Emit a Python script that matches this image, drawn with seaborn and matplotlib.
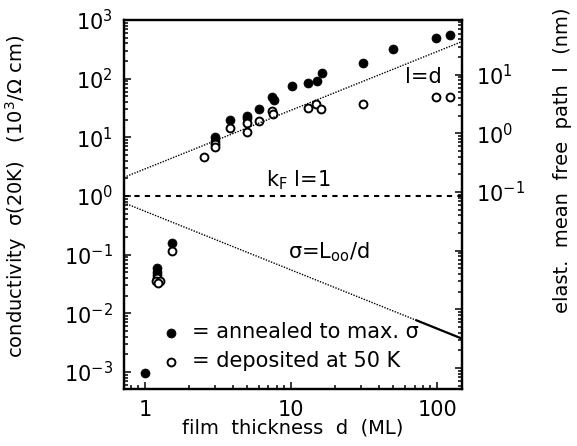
import numpy as np
import pandas as pd
import matplotlib
matplotlib.use("Agg")
import matplotlib.pyplot as plt
from matplotlib.ticker import LogLocator, NullFormatter
import seaborn as sns

# film thickness d (ML) and conductivity sigma(20K) in 10^3/(Ohm cm)
annealed_d = [1.0, 1.21, 1.21, 1.21, 1.54, 3.0, 3.0, 3.8, 5.0, 5.0, 6.0,
              7.4, 7.6, 10.1, 13.1, 15.0, 16.2, 31.2, 50.0, 98.5, 123.0]
annealed_sigma = [0.00095, 0.059, 0.051, 0.045, 0.156, 10.0, 8.8, 19.7, 23.3, 21.0, 31.0,
                  49.0, 44.0, 75.0, 83.0, 91.0, 127.0, 187.0, 320.0, 486.0, 550.0]

deposited_d = [1.21, 1.19, 1.27, 1.23, 1.54, 2.54, 3.0, 3.0, 3.8, 5.0, 5.0,
               6.0, 7.4, 7.5, 13.1, 14.9, 16.0, 31.2, 98.5, 123.0]
deposited_sigma = [0.040, 0.035, 0.0356, 0.0325, 0.116, 4.7, 7.7, 6.8, 14.6, 17.3, 12.2,
                   19.2, 28.0, 25.0, 32.0, 36.5, 31.0, 36.6, 49.0, 48.0]

# guide lines
l_eq_d_coef = 2.9      # sigma = coef * d  (l = d)
L00 = 0.55             # sigma = L00 / d
solid_from = 70.0      # where the L00/d line turns solid
sigma_to_l = 0.0855    # mean free path l (nm) per sigma unit

xlim = (0.718, 148.0)
ylim = (5.15e-4, 1000.0)

df_ann = pd.DataFrame({"d": annealed_d, "sigma": annealed_sigma})
df_dep = pd.DataFrame({"d": deposited_d, "sigma": deposited_sigma})

d_line = np.geomspace(xlim[0], xlim[1], 200)
df_ld = pd.DataFrame({"d": d_line, "sigma": l_eq_d_coef * d_line})
df_L = pd.DataFrame({"d": d_line, "sigma": L00 / d_line})
df_Ls = df_L[df_L["d"] >= solid_from]

sns.set_style("ticks")
plt.rcParams["font.family"] = ["DejaVu Sans"]
plt.rcParams["mathtext.fontset"] = "dejavusans"
for key in ["text.color", "axes.labelcolor", "xtick.color", "ytick.color", "axes.edgecolor"]:
    plt.rcParams[key] = "black"

fig = plt.figure(figsize=(5.77, 4.46), dpi=100)
ax = fig.add_axes([124 / 577, 1 - 389 / 446, 338 / 577, 369 / 446])

sns.lineplot(data=df_ld, x="d", y="sigma", ax=ax, color="black",
             lw=1.0, linestyle=(0, (1, 1)), legend=False)
sns.lineplot(data=df_L, x="d", y="sigma", ax=ax, color="black",
             lw=1.0, linestyle=(0, (1, 1)), legend=False)
sns.lineplot(data=df_Ls, x="d", y="sigma", ax=ax, color="black",
             lw=1.6, legend=False)
ax.axhline(1.0, color="black", lw=1.5, linestyle=(0, (2.5, 2.5)))

sns.scatterplot(data=df_ann, x="d", y="sigma", ax=ax, color="black",
                s=42, edgecolor="black", linewidth=0.5,
                label="= annealed to max. σ")
sns.scatterplot(data=df_dep, x="d", y="sigma", ax=ax, facecolor="white",
                s=32, edgecolor="black", linewidth=1.4,
                label="= deposited at 50 K")

ax.set_xscale("log")
ax.set_yscale("log")
ax.set_xlim(*xlim)
ax.set_ylim(*ylim)

ax.set_xticks([1, 10, 100], labels=["1", "10", "100"])
ax.xaxis.set_minor_locator(LogLocator(base=10, subs=np.arange(2, 10), numticks=20))
ax.xaxis.set_minor_formatter(NullFormatter())
ax.yaxis.set_major_locator(LogLocator(base=10, numticks=20))
ax.yaxis.set_minor_locator(LogLocator(base=10, subs=np.arange(2, 10), numticks=20))
ax.yaxis.set_minor_formatter(NullFormatter())

ax.tick_params(which="both", direction="in", top=False, right=False,
               labelsize=15, width=1.1, color="black")
ax.tick_params(which="major", length=5)
ax.tick_params(which="minor", length=3)
ax.tick_params(axis="x", pad=8)
ax.tick_params(axis="y", pad=8)
for sp in ax.spines.values():
    sp.set_linewidth(1.6)
    sp.set_visible(True)

ax.set_xlabel("film  thickness  d  (ML)", fontsize=14, labelpad=-1)
ax.set_ylabel("conductivity  σ(20K)   (10$^3$/Ω cm)", fontsize=14)
ax.yaxis.set_label_coords(-0.28, 0.523)

ax2 = ax.twinx()
ax2.set_yscale("log")
ax2.set_ylim(ylim[0] * sigma_to_l, ylim[1] * sigma_to_l)
ax2.yaxis.set_major_locator(LogLocator(base=10, numticks=20))
ax2.yaxis.set_minor_locator(LogLocator(base=10, subs=np.arange(2, 10), numticks=20))
ax2.yaxis.set_minor_formatter(NullFormatter())
ax2.yaxis.set_major_formatter(plt.FuncFormatter(
    lambda v, p: f"$10^{{{int(round(np.log10(v)))}}}$" if -1 <= round(np.log10(v)) <= 1 else ""))
ax2.tick_params(which="both", direction="in", labelsize=15, width=1.1, pad=10, color="black")
ax2.tick_params(which="major", length=5)
ax2.tick_params(which="minor", length=3)
ax2.set_ylabel("elast.  mean  free  path  l  (nm)", fontsize=14)
ax2.yaxis.set_label_coords(1.27, 0.62)
for sp in ax2.spines.values():
    sp.set_linewidth(1.6)

ax.text(0.885, 0.846, "l=d", transform=ax.transAxes, fontsize=15,
        ha="center", va="center")
ax.text(0.515, 0.566, r"k$_{\rm F}$ l=1", transform=ax.transAxes, fontsize=15,
        ha="center", va="center")
ax.text(0.607, 0.371, r"σ=L$_{\rm oo}$/d", transform=ax.transAxes, fontsize=15,
        ha="center", va="center")

ax.legend(frameon=False, loc="lower left", bbox_to_anchor=(0.09, 0.025),
          fontsize=15, handlelength=0.8, handletextpad=0.6, labelspacing=0.45,
          borderaxespad=0.0)

fig.savefig("out.png", dpi=100)
